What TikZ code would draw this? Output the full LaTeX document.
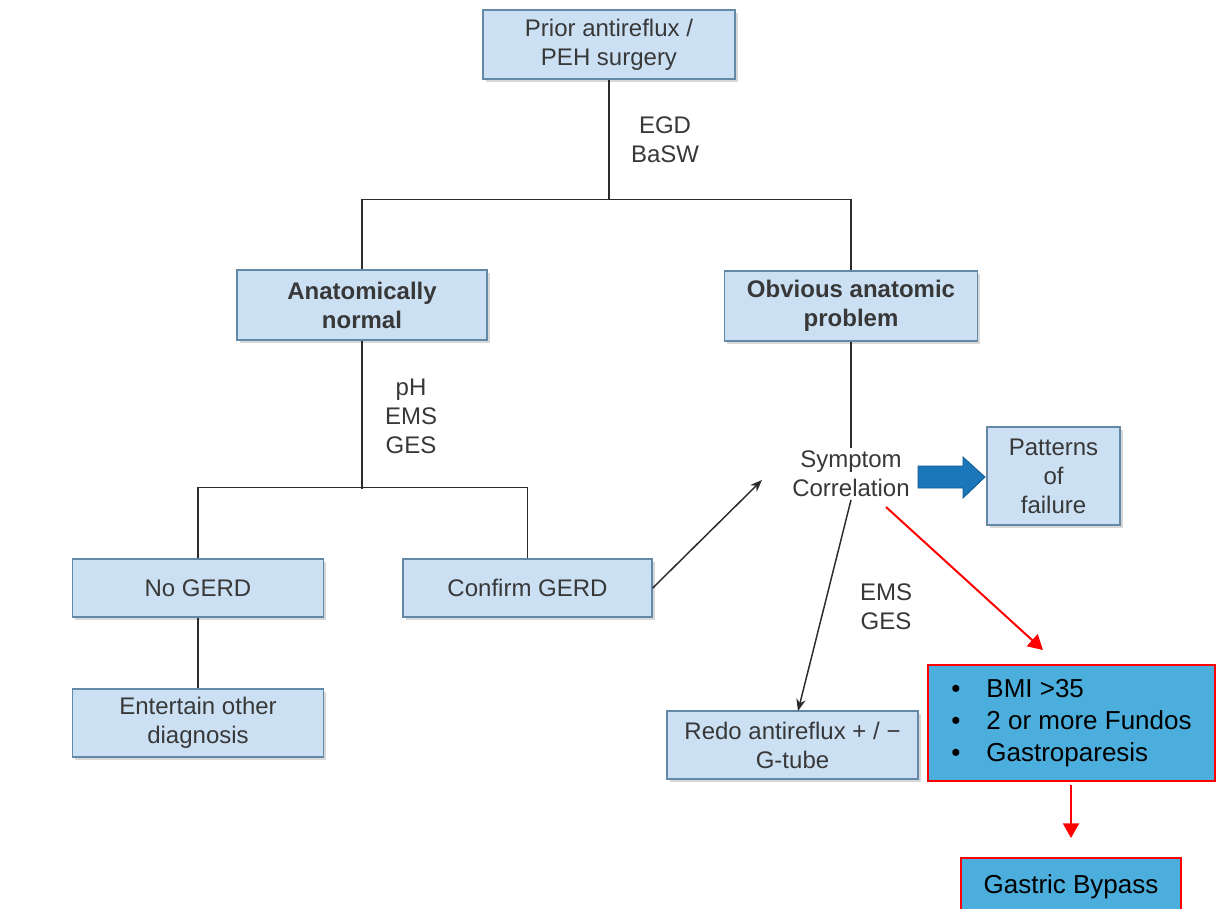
\documentclass[tikz,border=0pt]{standalone}
\usepackage{fontspec}
\setmainfont{Liberation Sans}
\usetikzlibrary{arrows.meta,shadows}
\definecolor{boxfill}{HTML}{CCE0F4}
\definecolor{boxline}{HTML}{6489A6}
\definecolor{txt}{HTML}{383838}
\definecolor{bmifill}{HTML}{4BAEDD}
\definecolor{bigarrow}{HTML}{1B76BA}
\definecolor{bigarrowline}{HTML}{0F5A92}
\definecolor{conn}{HTML}{2B2B2B}
\begin{document}
\begin{tikzpicture}[x=0.75pt,y=-0.75pt,
  every node/.style={font=\fontsize{18}{21.75}\selectfont, text=txt},
  box/.style={draw=boxline, line width=1.1pt, fill=boxfill, align=center, inner sep=0pt,
    drop shadow={shadow xshift=2pt, shadow yshift=-2pt, opacity=0.25, fill=black!60}},
  plain/.style={align=center, inner sep=2pt},
  redbox/.style={draw=red, line width=1.3pt, fill=bmifill, inner sep=0pt,
    font=\fontsize{19.5}{24}\selectfont, text=black},
  conn/.style={draw=conn, line width=1.1pt},
  arr/.style={conn, -{Stealth[length=9pt,width=7pt]}},
  redarr/.style={draw=red, line width=1.5pt, -{Triangle[length=11pt,width=12pt]}}]
\clip (0,0) rectangle (1223,908);
\fill[white] (0,0) rectangle (1223,908);

% boxes
\node[box, minimum width=189pt, minimum height=51.75pt] (prior) at (609,44.5) {Prior antireflux /\\PEH surgery};
\node[box, minimum width=187.5pt, minimum height=52.5pt, font=\fontsize{18}{21.75}\selectfont\bfseries] (anat) at (362,305) {Anatomically\\normal};
\node[box, minimum width=189.75pt, minimum height=52.5pt, font=\fontsize{18}{21.75}\selectfont\bfseries] (obv) at (851,306) {Obvious anatomic\\problem};
\node[box, minimum width=188.25pt, minimum height=43.5pt] (nogerd) at (198,588) {No GERD};
\node[box, minimum width=186.75pt, minimum height=43.5pt] (confirm) at (527.5,588) {Confirm GERD};
\node[box, minimum width=188.25pt, minimum height=51pt] (entertain) at (198,723) {Entertain other\\diagnosis};
\node[box, minimum width=99.75pt, minimum height=73.5pt] (patterns) at (1053.5,476) {Patterns\\of\\failure};
\node[box, minimum width=188.25pt, minimum height=51pt] (redo) at (792.5,745) {Redo antireflux + / \textminus\\G-tube};
\node[plain] (symp) at (851,474) {Symptom\\Correlation};

\node[redbox, minimum width=215.25pt, minimum height=87pt] (bmi) at (1071.5,723)
  {\begin{tabular}{@{}p{26.25pt}@{}l@{}}\textbullet & BMI >35\\ \textbullet & 2 or more Fundos\\ \textbullet & Gastroparesis\end{tabular}};
\node[redbox, minimum width=165pt, minimum height=43.5pt] (gastric) at (1071,887) {Gastric Bypass};

% labels
\node[plain] (egd) at (665,140) {EGD\\BaSW};
\node[plain] (ph) at (411,416) {pH\\EMS\\GES};
\node[plain] (ems) at (886,607) {EMS\\GES};

% tree connectors
\draw[conn] (prior.south) -- (609,200);
\draw[conn] (anat.north) -- ++(0,-70) -| (obv.north);
\draw[conn] (anat.south) -- ++(0,148);
\draw[conn] (nogerd.north) -- ++(0,-71) -| (confirm.north);
\draw[conn] (nogerd) -- (entertain);
\draw[conn] (obv.south) -- (symp.north);

% arrows
\coordinate (symptip) at (762,480);
\draw[arr] (confirm.east) -- (symptip);
\coordinate (redotop) at (798,711);
\draw[arr] (symp.south) -- (redotop);

\coordinate (rs) at (886,507);
\coordinate (re) at (1043,650);
\draw[redarr] (rs) -- (re);
\coordinate (gs) at (1071,785);
\coordinate (ge) at (1071,838);
\draw[redarr] (gs) -- (ge);

% big blue arrow
\filldraw[fill=bigarrow, draw=bigarrowline, line width=0.6pt]
  (918,466) -- (963,466) -- (963,457) -- (985,477) -- (963,498) -- (963,488) -- (918,488) -- cycle;
\end{tikzpicture}
\end{document}
